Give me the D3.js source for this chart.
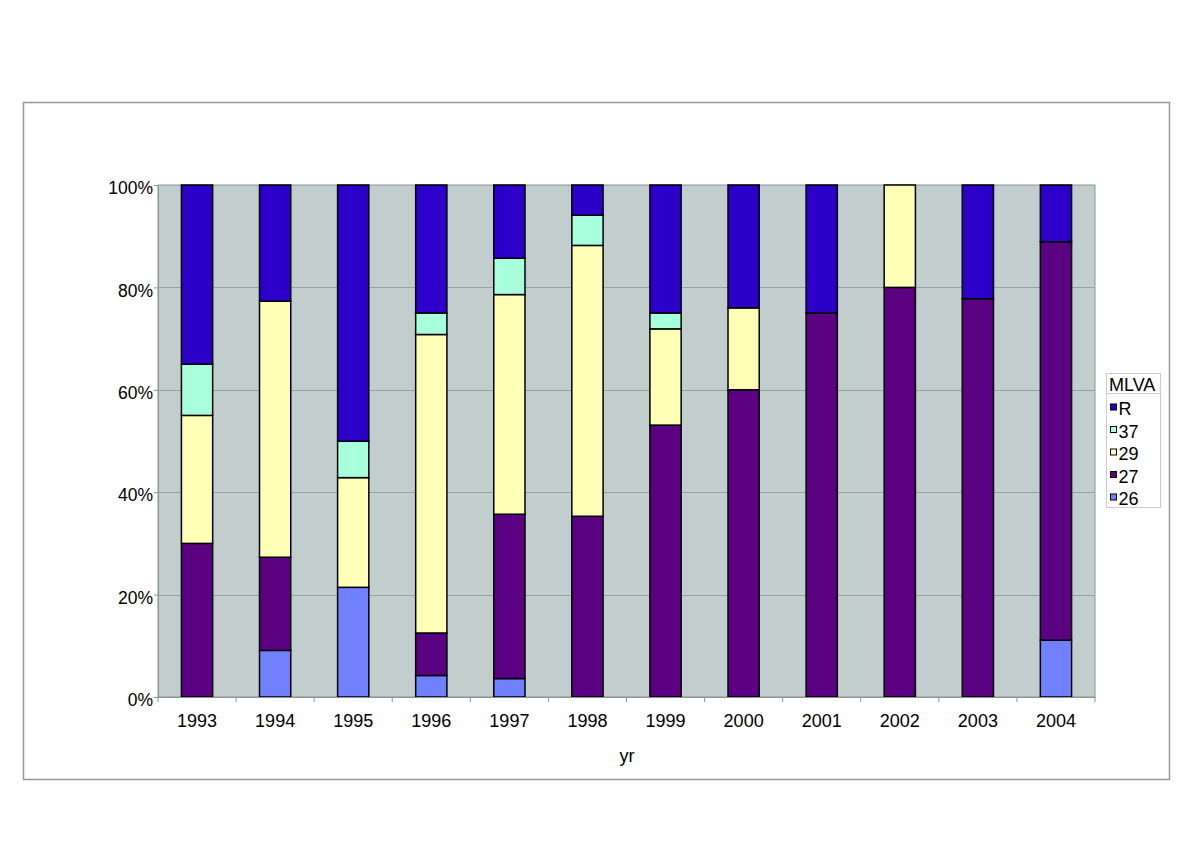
<!DOCTYPE html>
<html><head><meta charset="utf-8">
<script src="https://cdn.jsdelivr.net/npm/d3@7"></script>
<style>body{margin:0;background:#fff}svg{display:block}text{font-family:"Liberation Sans",Arial,sans-serif;fill:#000}</style>
</head><body><svg id="c" width="1200" height="849"></svg>
<script>
const years = ["1993","1994","1995","1996","1997","1998","1999","2000","2001","2002","2003","2004"];
const s26 = [0, 9.1, 21.4, 4.2, 3.6, 0, 0, 0, 0, 0, 0, 11.1];
const s27 = [30, 18.2, 0, 8.3, 32.1, 35.3, 53.1, 60, 75, 80, 77.8, 77.8];
const s29 = [25, 50, 21.4, 58.3, 42.9, 52.9, 18.8, 16, 0, 20, 0, 0];
const s37 = [10, 0, 7.1, 4.2, 7.1, 5.9, 3.1, 0, 0, 0, 0, 0];
const sR  = [35, 22.7, 50, 25, 14.3, 5.9, 25, 24, 25, 0, 22.2, 11.1];
const seriesNames = ["26","27","29","37","R"];
const seriesColors = {"26":"#7080ff","27":"#5a0080","29":"#ffffb8","37":"#a8ffdc","R":"#2c00c8"};
const yTicks = [0,20,40,60,80,100];

const svg = d3.select("#c");
const M = {l:158, r:1095, t:185, b:697};
const FS = 18;
const data = years.map((y,i)=>({yr:y, "26":s26[i], "27":s27[i], "29":s29[i], "37":s37[i], "R":sR[i]}));
const stack = d3.stack().keys(seriesNames).offset(d3.stackOffsetExpand)(data);

const x = d3.scaleBand().domain(years).range([M.l,M.r]).paddingInner(0.6).paddingOuter(0.3);
const y = d3.scaleLinear().domain([0,1]).range([M.b,M.t]);

// outer frame
svg.append("rect").attr("x",23.5).attr("y",102.5).attr("width",1146).attr("height",677)
  .attr("fill","#fff").attr("stroke","#999").attr("stroke-width",1.5);

// plot background
svg.append("rect").attr("x",M.l).attr("y",M.t).attr("width",M.r-M.l).attr("height",M.b-M.t)
  .attr("fill","#c2cece").attr("stroke","#8a9696").attr("stroke-width",1);

// gridlines
svg.append("g").selectAll("line").data(yTicks.slice(1,-1)).join("line")
  .attr("x1",M.l).attr("x2",M.r).attr("y1",d=>Math.round(y(d/100))+0.5).attr("y2",d=>Math.round(y(d/100))+0.5)
  .attr("stroke","#97a3a3").attr("stroke-width",1);

// bars
svg.append("g").selectAll("g").data(stack).join("g")
  .attr("fill",d=>seriesColors[d.key])
  .selectAll("rect").data(d=>d.filter(p=>p[1]-p[0]>0)).join("rect")
  .attr("x",d=>x(d.data.yr)).attr("width",x.bandwidth())
  .attr("y",d=>y(d[1])).attr("height",d=>y(d[0])-y(d[1]))
  .attr("stroke","#000").attr("stroke-width",1.5);

// y axis
const yAxis = d3.axisLeft(y).tickValues(yTicks.map(v=>v/100)).tickFormat(d=>Math.round(d*100)+"%").tickSize(4).tickPadding(1);
const ga = svg.append("g").attr("transform",`translate(${M.l},0)`).call(yAxis);
ga.select(".domain").attr("stroke","#8a9696");
ga.selectAll(".tick line").attr("stroke","#8a9696");
ga.selectAll("text").attr("font-size",FS-0.5).attr("font-family","Liberation Sans, Arial, sans-serif").attr("dy","0.5em");

// x axis
const xAxis = d3.axisBottom(x).tickSize(0).tickPadding(17);
const gx = svg.append("g").attr("transform",`translate(0,${M.b})`).call(xAxis);
gx.select(".domain").attr("stroke","#8a9696");
gx.selectAll("text").attr("font-size",FS).attr("font-family","Liberation Sans, Arial, sans-serif");
// category separator ticks
svg.append("g").selectAll("line").data(d3.range(years.length+1)).join("line")
  .attr("x1",i=>M.l+i*(M.r-M.l)/years.length).attr("x2",i=>M.l+i*(M.r-M.l)/years.length)
  .attr("y1",M.b).attr("y2",M.b+5).attr("stroke","#8a9696");

svg.append("text").attr("x",627).attr("y",762).attr("text-anchor","middle").attr("font-size",FS).text("yr");

// legend
const lg = svg.append("g");
lg.append("rect").attr("x",1106.5).attr("y",373.5).attr("width",54).attr("height",134)
  .attr("fill","#fff").attr("stroke","#ccc");
lg.append("line").attr("x1",1106.5).attr("x2",1160.5).attr("y1",393.5).attr("y2",393.5).attr("stroke","#ccc");
lg.append("text").attr("x",1109).attr("y",390.5).attr("font-size",FS).text("MLVA");
const legOrder = ["R","37","29","27","26"];
legOrder.forEach((k,i)=>{
  const base = 415 + i*22.5;
  lg.append("rect").attr("x",1110.5).attr("y",base-11).attr("width",6).attr("height",6)
    .attr("fill",seriesColors[k]).attr("stroke","#000").attr("stroke-width",1);
  lg.append("text").attr("x",1118.5).attr("y",base).attr("font-size",FS).text(k);
});
</script></body></html>
